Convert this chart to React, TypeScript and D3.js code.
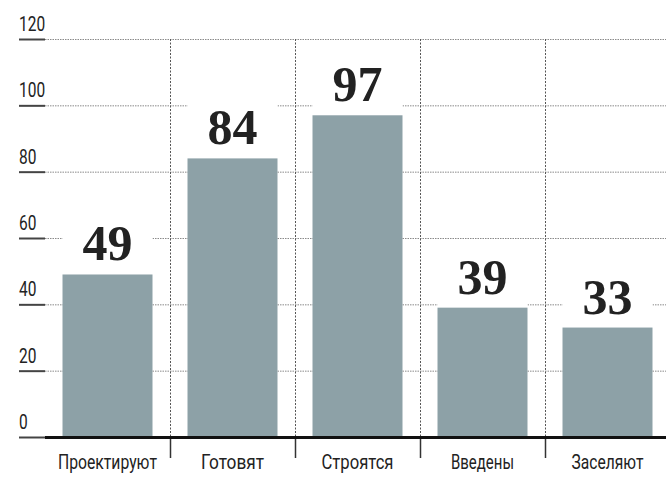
import React from "react";
import * as d3 from "d3";

const categories = ["Проектируют", "Готовят", "Строятся", "Введены", "Заселяют"];
const values = [49, 84, 97, 39, 33];
const yTicks = [0, 20, 40, 60, 80, 100, 120];

const W = 666;
const H = 478;

export default function App() {
  const x = d3
    .scaleBand<string>()
    .domain(categories)
    .range([45, 670])
    .paddingInner(0.28)
    .paddingOuter(0.14);
  const y = d3.scaleLinear().domain([0, 120]).range([437, 39]);
  const step = x.step();
  const x0 = 45;
  const condensed = "Roboto, 'Liberation Sans', sans-serif";

  return (
    <svg
      width={W}
      height={H}
      style={{ position: "absolute", left: 0, top: 0, background: "#fff" }}
    >
      {yTicks.map((t) => (
        <g key={"g" + t}>
          {t > 0 && (
            <line
              x1={x0}
              x2={W}
              y1={y(t) + 0.5}
              y2={y(t) + 0.5}
              stroke="#8a8a8a"
              strokeWidth={1}
              strokeDasharray="1.5,1"
            />
          )}
          <line x1={19} x2={45} y1={y(t) + 0.5} y2={y(t) + 0.5} stroke="#444" strokeWidth={2} />
          <text
            x={19}
            y={y(t) - 8}
            fontFamily={condensed}
            fontSize={20.5}
            fill="#222"
            textLength={String(t).length * 8.7}
            lengthAdjust="spacingAndGlyphs"
          >
            {t}
          </text>
        </g>
      ))}
      {categories.slice(1).map((c, i) => {
        const xv = Math.round(x0 + step * (i + 1)) + 0.5;
        return (
          <g key={"d" + c}>
            <line x1={xv} x2={xv} y1={y(120)} y2={y(0)} stroke="#555" strokeWidth={1} strokeDasharray="2,1.5" />
            <line x1={xv} x2={xv} y1={y(0)} y2={458} stroke="#333" strokeWidth={1.5} />
          </g>
        );
      })}
      {categories.map((c, i) => {
        const bx = x(c)!;
        const bw = x.bandwidth();
        const top = y(values[i]);
        return (
          <g key={"b" + c}>
            <rect x={bx} y={top - 58} width={bw} height={58} fill="#fff" />
            <rect x={bx} y={top} width={bw} height={y(0) - top} fill="#8da1a7" />
            <text
              x={bx + bw / 2}
              y={top - 14}
              textAnchor="middle"
              fontFamily="'Liberation Serif', serif"
              fontWeight="bold"
              fontSize={50}
              fill="#222"
            >
              {values[i]}
            </text>
            <text
              x={bx + bw / 2}
              y={469}
              textAnchor="middle"
              fontFamily={condensed}
              fontSize={20.5}
              fill="#222"
              textLength={c.length * 9}
              lengthAdjust="spacingAndGlyphs"
            >
              {c}
            </text>
          </g>
        );
      })}
      <line x1={x0} x2={W} y1={y(0) + 0.5} y2={y(0) + 0.5} stroke="#111" strokeWidth={3} />
    </svg>
  );
}
